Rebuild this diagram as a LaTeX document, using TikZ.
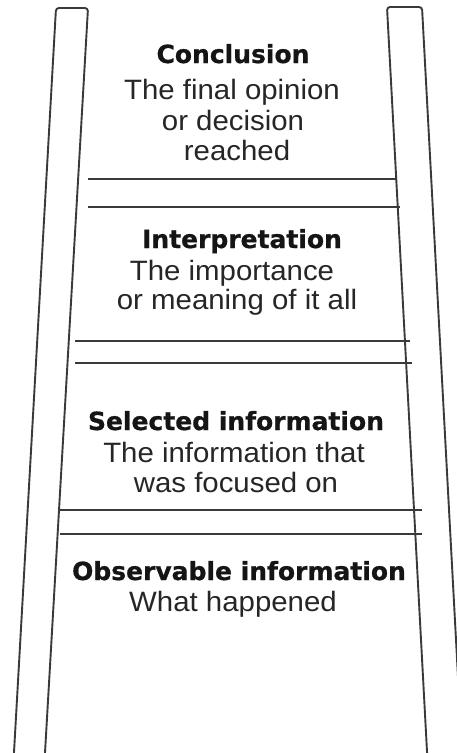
\documentclass[tikz,border=0pt]{standalone}
\usepackage{fontspec}
\setmainfont{Liberation Sans}[FakeStretch=1.05]
\newfontfamily\headfont{DejaVu Sans}[BoldFeatures={FakeBold=0.7}]
\definecolor{lineclr}{HTML}{3A3A3A}
\definecolor{headclr}{HTML}{151515}
\definecolor{bodyclr}{HTML}{262626}
\begin{document}
\begin{tikzpicture}[x=1pt,y=-1pt,
  rail/.style={draw=lineclr, line width=1.9pt, line join=round, rounded corners=3pt},
  rung/.style={draw=lineclr, line width=1.9pt},
  head/.style={anchor=base, inner sep=0pt, text=headclr,
    font=\headfont\bfseries\fontsize{25}{30}\selectfont},
  body/.style={anchor=base, inner sep=0pt, text=bodyclr,
    font=\fontsize{28}{32}\selectfont}]
  \useasboundingbox (0,0) rectangle (457,753);
  \clip (0,0) rectangle (457,753);
  \fill[white] (0,0) rectangle (457,753);

  % the two rails, running off the bottom edge
  \draw[rail] (13,770) -- (56,8) -- (88,8) -- (44,770);
  \draw[rail] (428,770) -- (387,7) -- (422,7) -- (463,770);

  % rungs, in pairs
  \draw[rung] (88,179) -- (397,179);
  \draw[rung] (88,207) -- (400,207);
  \draw[rung] (75,341) -- (410,341);
  \draw[rung] (75,363) -- (412,363);
  \draw[rung] (60,510) -- (422,510);
  \draw[rung] (60,534) -- (422,534);

  % top step
  \node[head] (c0) at (233,63) {Conclusion};
  \node[body] (c1) at (232,99) {The final opinion};
  \node[body] (c2) at (233,130) {or decision};
  \node[body] (c3) at (237,160) {reached};

  % second step
  \node[head] (i0) at (242,248) {Interpretation};
  \node[body] (i1) at (232,280) {The importance};
  \node[body] (i2) at (237,309) {or meaning of it all};

  % third step
  \node[head] (s0) at (236,430) {Selected information};
  \node[body] (s1) at (234,462) {The information that};
  \node[body] (s2) at (236,492) {was focused on};

  % bottom step
  \node[head] (o0) at (239,580) {Observable information};
  \node[body] (o1) at (233,611) {What happened};
\end{tikzpicture}
\end{document}
